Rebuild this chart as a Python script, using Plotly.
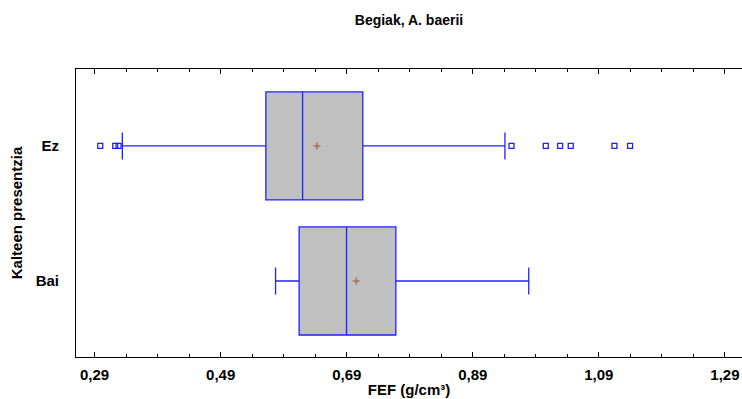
import plotly.graph_objects as go

# Data
categories = ["Bai", "Ez"]
cat_pos = [0, 1]
q1 = [0.6145, 0.5617]
median = [0.6897, 0.620]
q3 = [0.7679, 0.7155]
lower_whisker = [0.5771, 0.334]
upper_whisker = [0.9788, 0.941]
means = [0.705, 0.6427]
ez_outliers = [0.299, 0.3227, 0.328, 0.9514, 1.0058, 1.0285, 1.0454, 1.1147, 1.1395]
tick_values = [0.29, 0.49, 0.69, 0.89, 1.09, 1.29]

FONT = "Liberation Sans, Arial, sans-serif"
BLUE = "#2020ff"

fig = go.Figure()
fig.add_trace(go.Box(
    y=cat_pos, q1=q1, median=median, q3=q3,
    lowerfence=lower_whisker, upperfence=upper_whisker,
    orientation="h", width=0.8, whiskerwidth=0.25,
    fillcolor="#c0c0c0", line=dict(color=BLUE, width=1.3),
    boxpoints=False, hoverinfo="skip", showlegend=False,
))
fig.add_trace(go.Scatter(
    x=ez_outliers, y=[1] * len(ez_outliers), mode="markers",
    marker=dict(symbol="square-open", size=5, color=BLUE, line=dict(width=1.3, color=BLUE)),
    showlegend=False,
))
fig.add_trace(go.Scatter(
    x=means, y=cat_pos, mode="markers",
    marker=dict(symbol="cross-thin-open", size=5, color="#a0522d", line=dict(width=1.1, color="#a0522d")),
    showlegend=False,
))

fig.update_layout(
    width=742, height=399,
    margin=dict(l=76, r=0, t=69, b=42),
    plot_bgcolor="white", paper_bgcolor="white",
    separators=",.",
    font=dict(family=FONT, size=15, color="black"),
    title=dict(text="<b>Begiak, A. baerii</b>", x=0.5, xref="paper",
               y=1 - 20 / 399, yref="container", yanchor="middle",
               font=dict(family=FONT, size=14, color="black")),
    xaxis=dict(
        range=[0.2605, 1.3171], tickvals=tick_values,
        ticktext=[f"<b>{v:.2f}</b>".replace(".", ",") for v in tick_values],
        ticks="inside", ticklen=5, tickwidth=1, tickcolor="black",
        minor=dict(tick0=0.29, dtick=0.05, ticks="inside", ticklen=3, tickcolor="black"),
        showline=True, linecolor="black", linewidth=1, mirror="ticks",
        showgrid=False, zeroline=False, ticklabelstandoff=4,
        title=dict(text="<b>FEF (g/cm³)</b>", standoff=2, font=dict(size=15)),
        tickfont=dict(size=15),
    ),
    yaxis=dict(
        range=[-0.563, 1.570], tickvals=cat_pos,
        ticktext=[f"<b>{c}</b>" for c in categories],
        ticks="", showline=True, linecolor="black", linewidth=1,
        showgrid=False, zeroline=False, ticklabelstandoff=13,
        title=dict(text="<b>Kalteen presentzia</b>", standoff=9, font=dict(size=15)),
        tickfont=dict(size=15),
    ),
)

fig.write_html("out.html")
